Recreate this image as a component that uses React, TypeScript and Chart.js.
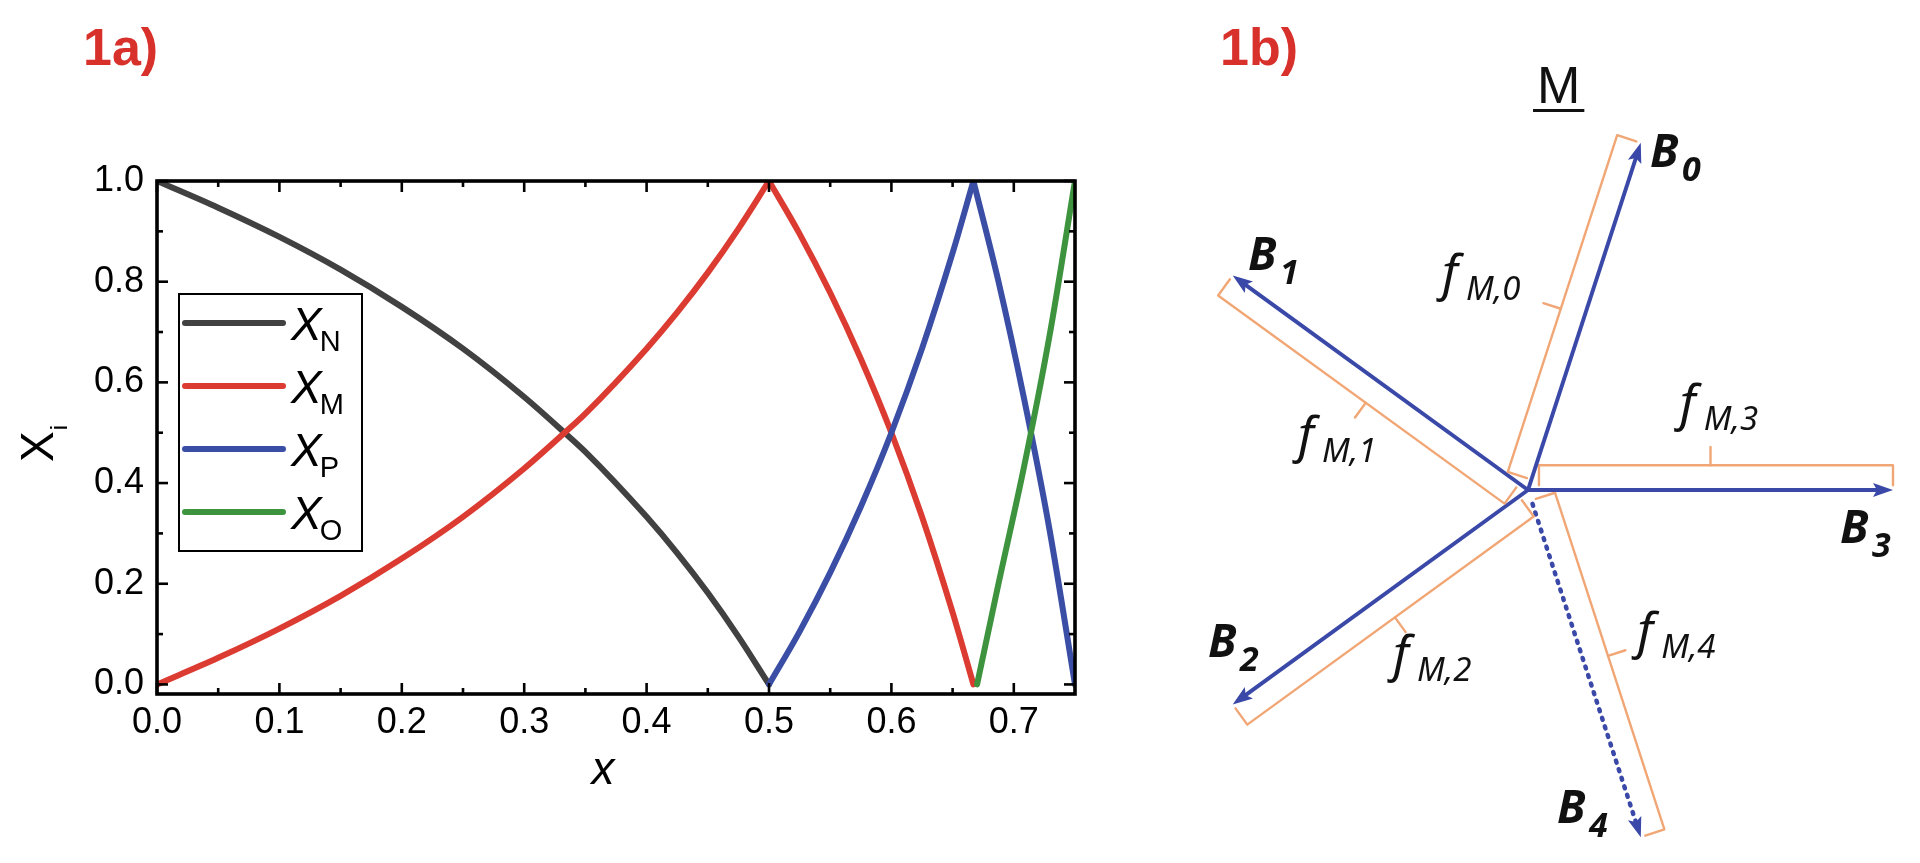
import { useEffect, useRef } from 'react';
import { Chart, registerables } from 'chart.js';

Chart.register(...registerables);

// ---------------- Panel 1a data ----------------
const seg1X = [0, 0.05, 0.1, 0.15, 0.2, 0.25, 0.3, 0.333, 0.35, 0.4, 0.425, 0.45, 0.475, 0.5];
const xN1 = [1.0, 0.947, 0.889, 0.824, 0.75, 0.667, 0.571, 0.5, 0.462, 0.333, 0.261, 0.182, 0.095, 0.0];
const xM1 = [0.0, 0.053, 0.111, 0.176, 0.25, 0.333, 0.429, 0.5, 0.538, 0.667, 0.739, 0.818, 0.905, 1.0];
const seg2X = [0.5, 0.525, 0.55, 0.575, 0.6, 0.625, 0.65, 0.667];
const xM2 = [1.0, 0.895, 0.778, 0.647, 0.5, 0.333, 0.143, 0.0];
const xP2 = [0.0, 0.105, 0.222, 0.353, 0.5, 0.667, 0.857, 1.0];
const seg3PX = [0.667, 0.6875, 0.708, 0.729, 0.75];
const xP3 = [1.0, 0.8, 0.572, 0.31, 0.0];
const seg3OX = [0.67, 0.6875, 0.708, 0.729, 0.75];
const xO3 = [0.0, 0.2, 0.428, 0.69, 1.0];

const seriesSubs = ['N', 'M', 'P', 'O'];
const seriesColors = ['#414141', '#dc3b32', '#3b4ea5', '#3e943e'];

const xMajorTicks = [0, 0.1, 0.2, 0.3, 0.4, 0.5, 0.6, 0.7];
const xMinorTicks = [0.05, 0.15, 0.25, 0.35, 0.45, 0.55, 0.65];
const yMajorTicks = [0, 0.2, 0.4, 0.6, 0.8, 1.0];
const yMinorTicks = [0.1, 0.3, 0.5, 0.7, 0.9];

// ---------------- Panel 1b data ----------------
const bondSubs = ['0', '1', '2', '3', '4'];
const bondAngles = [72, 144, 216, 0, 288];
const bondLengths = [1.0, 1.0, 1.0, 1.0, 1.0];
const bondDashed = [false, false, false, false, true];
const fractionSubs = ['M,0', 'M,1', 'M,2', 'M,3', 'M,4'];
const centerLabel = 'M';

// ---------------- layout constants ----------------
const W_A = 1150;
const H = 863;
const W_B = 770;
const B_LEFT = 1150;
const HUB_PX = 1528;
const HUB_PY = 490;
const UNIT = 365;
const bLabelPos = [[0.334, 0.885], [-0.767, 0.603], [-0.877, -0.458], [0.855, -0.145], [0.0795, -0.912]];
const fLabelPos = [[-0.2356, 0.548], [-0.63, 0.104], [-0.37, -0.496], [0.416, 0.192], [0.299, -0.433]];
const mLabelPos = [0.0247, 1.0603];

const FONT = '"Liberation Sans", Arial, sans-serif';
const DFONT = '"Noto Sans", "Open Sans", sans-serif';
const PANEL_RED = '#d8302b';
const BLUE = '#3a48a8';
const ORANGE = '#f1a675';
const CURVE_W = 6;

const pts = (xs: number[], ys: number[]) => xs.map((x, i) => ({ x, y: ys[i] }));

const lineDs = (data: any[], color: string, order: number) => ({
  data,
  borderColor: color,
  backgroundColor: color,
  borderWidth: CURVE_W,
  pointRadius: 0,
  cubicInterpolationMode: 'monotone',
  borderCapStyle: 'round',
  borderJoinStyle: 'round',
  fill: false,
  order,
});

const panelAPlugin = {
  id: 'panelA',
  afterDatasetsDraw(chart: any) {
    const { ctx, chartArea: a, scales } = chart;
    const x = scales.x;
    const y = scales.y;
    ctx.save();
    ctx.strokeStyle = '#000';
    ctx.lineCap = 'butt';
    const seg = (x1: number, y1: number, x2: number, y2: number) => {
      ctx.beginPath();
      ctx.moveTo(x1, y1);
      ctx.lineTo(x2, y2);
      ctx.stroke();
    };
    ctx.lineWidth = 2.6;
    xMajorTicks.forEach((v) => {
      const p = x.getPixelForValue(v);
      seg(p, a.bottom, p, a.bottom - 11);
      seg(p, a.top, p, a.top + 11);
    });
    xMinorTicks.forEach((v) => {
      const p = x.getPixelForValue(v);
      seg(p, a.bottom, p, a.bottom - 6);
      seg(p, a.top, p, a.top + 6);
    });
    yMajorTicks.forEach((v) => {
      const p = y.getPixelForValue(v);
      seg(a.left, p, a.left + 11, p);
      seg(a.right, p, a.right - 11, p);
    });
    yMinorTicks.forEach((v) => {
      const p = y.getPixelForValue(v);
      seg(a.left, p, a.left + 6, p);
      seg(a.right, p, a.right - 6, p);
    });
    ctx.lineWidth = 3.6;
    ctx.strokeRect(a.left, a.top, a.right - a.left, a.bottom - a.top);
    ctx.restore();
  },
  afterDraw(chart: any) {
    const { ctx, chartArea: a } = chart;
    ctx.save();
    // legend
    const lx = a.left + 22;
    const ly = a.top + 113;
    const lw = 183;
    const lh = 257;
    ctx.fillStyle = '#fff';
    ctx.fillRect(lx, ly, lw, lh);
    ctx.strokeStyle = '#000';
    ctx.lineWidth = 2;
    ctx.strokeRect(lx, ly, lw, lh);
    seriesSubs.forEach((s, i) => {
      const yy = ly + 29 + i * 63;
      ctx.strokeStyle = seriesColors[i];
      ctx.lineWidth = CURVE_W;
      ctx.lineCap = 'round';
      ctx.beginPath();
      ctx.moveTo(lx + 6, yy);
      ctx.lineTo(lx + 104, yy);
      ctx.stroke();
      ctx.fillStyle = '#000';
      ctx.textBaseline = 'alphabetic';
      ctx.textAlign = 'left';
      ctx.font = `italic 46px ${FONT}`;
      ctx.fillText('X', lx + 112, yy + 17);
      const w = ctx.measureText('X').width;
      ctx.font = `29px ${FONT}`;
      ctx.fillText(s, lx + 110 + w, yy + 28);
    });
    // y title X_i (rotated)
    ctx.fillStyle = '#000';
    ctx.save();
    ctx.translate(53, 462);
    ctx.rotate(-Math.PI / 2);
    ctx.textAlign = 'left';
    ctx.textBaseline = 'alphabetic';
    ctx.font = `46px ${FONT}`;
    ctx.fillText('X', 0, 0);
    const wx = ctx.measureText('X').width;
    ctx.font = `24px ${FONT}`;
    ctx.fillText('i', wx + 1, 14);
    ctx.restore();
    // x title
    ctx.font = `italic 46px ${FONT}`;
    ctx.textAlign = 'center';
    ctx.textBaseline = 'alphabetic';
    ctx.fillText('x', 603, 784);
    // panel label
    ctx.fillStyle = PANEL_RED;
    ctx.font = `bold 52px ${FONT}`;
    ctx.textAlign = 'left';
    ctx.fillText('1a)', 83, 65);
    ctx.restore();
  },
};

// geometry of a bond point in diagram units: t along bond, s normal (left side)
const bondPoint = (i: number, t: number, s: number) => {
  const a = (bondAngles[i] * Math.PI) / 180;
  const c = Math.cos(a);
  const sn = Math.sin(a);
  const L = bondLengths[i];
  return { x: t * L * c - s * sn, y: t * L * sn + s * c };
};

const BR_T0 = 0.03;
const BR_T1 = 1.0;
const BR_OFF = 0.068;
const BR_CAP = 0.013;
const BR_TICK = 0.05;

const panelBPlugin = {
  id: 'panelB',
  afterDatasetsDraw(chart: any) {
    const { ctx, scales } = chart;
    const X = (v: number) => scales.x.getPixelForValue(v);
    const Y = (v: number) => scales.y.getPixelForValue(v);
    ctx.save();
    // arrowheads
    bondAngles.forEach((_, i) => {
      const tip = bondPoint(i, 1, 0);
      const hub = bondPoint(i, 0, 0);
      const tx = X(tip.x);
      const ty = Y(tip.y);
      const dx = tx - X(hub.x);
      const dy = ty - Y(hub.y);
      const len = Math.hypot(dx, dy);
      const ux = dx / len;
      const uy = dy / len;
      const hl = 20;
      const hw = 7;
      ctx.fillStyle = BLUE;
      ctx.beginPath();
      ctx.moveTo(tx, ty);
      ctx.lineTo(tx - ux * hl - uy * hw, ty - uy * hl + ux * hw);
      ctx.lineTo(tx - ux * hl * 0.8, ty - uy * hl * 0.8);
      ctx.lineTo(tx - ux * hl + uy * hw, ty - uy * hl - ux * hw);
      ctx.closePath();
      ctx.fill();
    });
    // labels
    ctx.fillStyle = '#111';
    ctx.textAlign = 'left';
    ctx.textBaseline = 'alphabetic';
    bondSubs.forEach((s, i) => {
      const [u, v] = bLabelPos[i];
      const px = X(u);
      const py = Y(v);
      ctx.font = `italic bold 46px ${DFONT}`;
      ctx.fillText('B', px, py);
      ctx.font = `italic bold 34px ${DFONT}`;
      ctx.fillText(s, px + 32, py + 14);
    });
    fractionSubs.forEach((s, i) => {
      const [u, v] = fLabelPos[i];
      const px = X(u);
      const py = Y(v);
      ctx.font = `italic 50px ${DFONT}`;
      ctx.fillText('f', px, py);
      ctx.font = `italic 33px ${DFONT}`;
      ctx.fillText(s, px + 24, py + 10);
    });
    // center label underlined
    const mx = X(mLabelPos[0]);
    const my = Y(mLabelPos[1]);
    ctx.font = `52px ${FONT}`;
    ctx.fillText(centerLabel, mx, my);
    const mw = ctx.measureText(centerLabel).width;
    ctx.fillRect(mx - 4, my + 6, mw + 8, 3);
    // panel label
    ctx.fillStyle = PANEL_RED;
    ctx.font = `bold 52px ${FONT}`;
    ctx.fillText('1b)', 1220 - B_LEFT, 65);
    ctx.restore();
  },
};

export default function App() {
  const refA = useRef<HTMLCanvasElement>(null);
  const refB = useRef<HTMLCanvasElement>(null);

  useEffect(() => {
    const datasetsA = [
      lineDs(pts(seg1X, xN1), seriesColors[0], 4),
      lineDs(pts(seg1X, xM1), seriesColors[1], 3),
      lineDs(pts(seg2X, xM2), seriesColors[1], 3),
      lineDs(pts(seg2X, xP2), seriesColors[2], 2),
      lineDs(pts(seg3PX, xP3), seriesColors[2], 2),
      lineDs(pts(seg3OX, xO3), seriesColors[3], 1),
    ];
    const tickFont = { family: FONT, size: 36 };
    const chartA = new Chart(refA.current as HTMLCanvasElement, {
      type: 'line',
      data: { datasets: datasetsA as any },
      options: {
        responsive: false,
        animation: false,
        devicePixelRatio: 1,
        events: [],
        layout: { padding: { left: 0, right: W_A - 1075, top: 181, bottom: 0 } },
        plugins: { legend: { display: false }, tooltip: { enabled: false } },
        scales: {
          x: {
            type: 'linear',
            min: 0,
            max: 0.75,
            afterBuildTicks: (s: any) => {
              s.ticks = xMajorTicks.map((v) => ({ value: v }));
            },
            afterFit: (s: any) => {
              s.height = H - 694;
            },
            grid: { display: false, drawTicks: false },
            border: { display: false },
            ticks: {
              autoSkip: false,
              maxRotation: 0,
              padding: 7,
              color: '#000',
              font: tickFont,
              callback: (v: any) => Number(v).toFixed(1),
            },
          },
          y: {
            type: 'linear',
            min: -0.019,
            max: 1.0,
            afterBuildTicks: (s: any) => {
              s.ticks = yMajorTicks.map((v) => ({ value: v }));
            },
            afterFit: (s: any) => {
              s.width = 157;
            },
            grid: { display: false, drawTicks: false },
            border: { display: false },
            ticks: {
              autoSkip: false,
              padding: 13,
              color: '#000',
              font: tickFont,
              callback: (v: any) => Number(v).toFixed(1),
            },
          },
        },
      } as any,
      plugins: [panelAPlugin],
    });

    const datasetsB: any[] = [];
    bondAngles.forEach((_, i) => {
      const dashed = bondDashed[i];
      datasetsB.push({
        data: [bondPoint(i, dashed ? 0.04 : 0, 0), bondPoint(i, dashed ? 0.955 : 0.96, 0)],
        borderColor: BLUE,
        borderWidth: dashed ? 4.5 : 4,
        borderDash: dashed ? [2, 7] : [],
        borderCapStyle: dashed ? 'round' : 'butt',
        pointRadius: 0,
        fill: false,
        clip: false,
      });
      datasetsB.push({
        data: [
          bondPoint(i, BR_T0, BR_CAP),
          bondPoint(i, BR_T0, BR_OFF),
          bondPoint(i, BR_T1, BR_OFF),
          bondPoint(i, BR_T1, BR_CAP),
        ],
        borderColor: ORANGE,
        borderWidth: 2.4,
        borderJoinStyle: 'round',
        borderCapStyle: 'round',
        pointRadius: 0,
        fill: false,
        clip: false,
      });
      datasetsB.push({
        data: [bondPoint(i, 0.5, BR_OFF), bondPoint(i, 0.5, BR_OFF + BR_TICK)],
        borderColor: ORANGE,
        borderWidth: 2.4,
        borderCapStyle: 'round',
        pointRadius: 0,
        fill: false,
        clip: false,
      });
    });

    const chartB = new Chart(refB.current as HTMLCanvasElement, {
      type: 'line',
      data: { datasets: datasetsB },
      options: {
        responsive: false,
        animation: false,
        devicePixelRatio: 1,
        events: [],
        layout: { padding: 0 },
        plugins: { legend: { display: false }, tooltip: { enabled: false } },
        scales: {
          x: {
            type: 'linear',
            display: false,
            min: (B_LEFT - HUB_PX) / UNIT,
            max: (B_LEFT + W_B - HUB_PX) / UNIT,
          },
          y: {
            type: 'linear',
            display: false,
            min: (HUB_PY - H) / UNIT,
            max: HUB_PY / UNIT,
          },
        },
      } as any,
      plugins: [panelBPlugin],
    });

    return () => {
      chartA.destroy();
      chartB.destroy();
    };
  }, []);

  return (
    <div
      style={{
        position: 'fixed',
        left: 0,
        top: 0,
        width: 1920,
        height: H,
        background: '#fff',
        overflow: 'hidden',
      }}
    >
      <canvas ref={refA} width={W_A} height={H} style={{ position: 'absolute', left: 0, top: 0 }} />
      <canvas ref={refB} width={W_B} height={H} style={{ position: 'absolute', left: B_LEFT, top: 0 }} />
    </div>
  );
}
